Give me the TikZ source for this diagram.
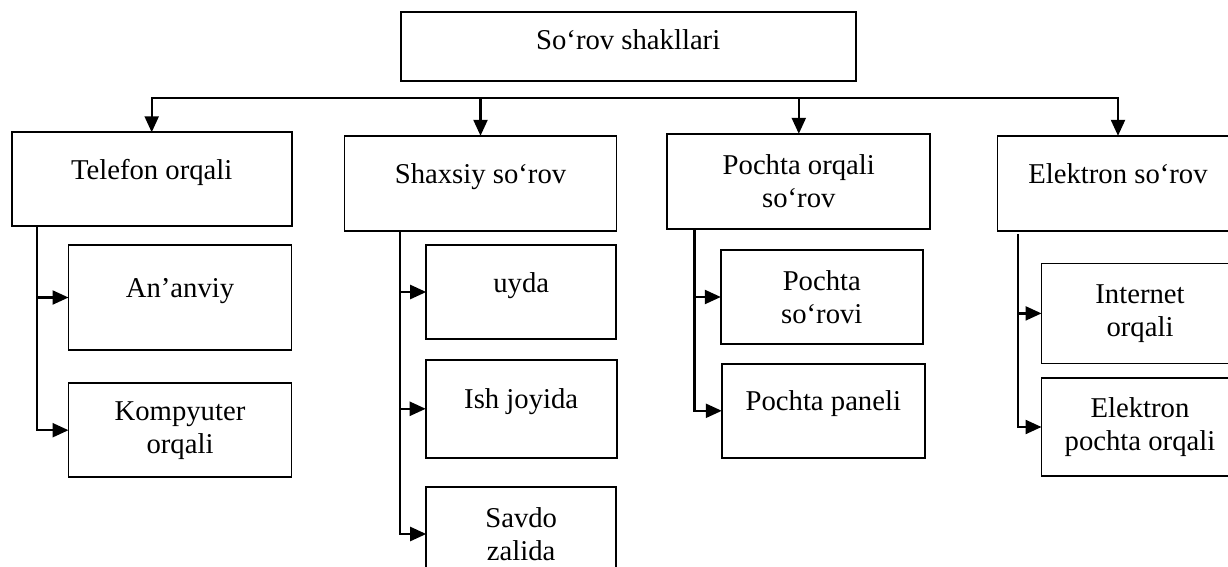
\documentclass[tikz,border=0pt]{standalone}
\usepackage{fontspec}
\setmainfont{Liberation Serif}
\usetikzlibrary{arrows.meta}
\begin{document}
\begin{tikzpicture}[x=1pt,y=-1pt,
  box/.style={draw, line width=1.8pt, inner sep=2pt, outer sep=0pt,
    font=\fontsize{28.7pt}{33pt}\selectfont},
  oneline/.style={text height=8pt, text depth=8pt},
  two/.style={align=center},
  bus/.style={line width=2.3pt, line cap=rect},
  conn/.style={line width=2.3pt, -{Triangle[length=16pt,width=14pt]}},
]
\useasboundingbox (0,0) rectangle (1228,567);
\clip (0,0) rectangle (1228,567);

% root
\node[box, minimum width=455pt, minimum height=69pt, text height=14pt, text depth=7pt]
  (root) at (628.2,46.2) {So‘rov shakllari};

% first level
\node[box, oneline, minimum width=280pt, minimum height=94pt] (tel) at (151.7,179.3) {Telefon orqali};
\node[box, oneline, minimum width=272pt, minimum height=95pt] (shx) at (480.5,183.3) {Shaxsiy so‘rov};
\node[box, two, minimum width=263pt, minimum height=95pt] (poc) at (798.8,181.3) {Pochta orqali\\so‘rov};
\node[box, oneline, minimum width=241pt, minimum height=95pt] (ele) at (1118,183.3) {Elektron so‘rov};

% second level
\node[box, oneline, minimum width=223pt, minimum height=105pt] (ana) at (180,297.5) {An’anviy};
\node[box, two, minimum width=223pt, minimum height=94pt] (kom) at (180,430.2) {Kompyuter\\orqali};

\node[box, oneline, minimum width=190pt, minimum height=94pt] (uyd) at (521.2,292) {uyda};
\node[box, oneline, minimum width=191pt, minimum height=98pt] (ish) at (521.2,408.8) {Ish joyida};
\node[box, two, minimum width=190pt, minimum height=94pt] (sav) at (521.2,534) {Savdo\\zalida};

\node[box, two, minimum width=202pt, minimum height=94pt] (pso) at (821.8,297) {Pochta\\so‘rovi};
\node[box, oneline, minimum width=203pt, minimum height=94pt] (ppa) at (823.3,410.8) {Pochta paneli};

\node[box, two, minimum width=197pt, minimum height=100pt] (int) at (1140,313.4) {Internet\\orqali};
\node[box, two, minimum width=197pt, minimum height=98pt] (epo) at (1140,427) {Elektron\\pochta orqali};

% distribution bus below the root
\coordinate (bl) at (151.7,97.7);
\draw[bus] (tel.north |- bl) -- (ele.north |- bl);
\draw[conn] (tel.north |- bl) -- (tel.north);
\draw[conn] (shx.north |- bl) -- (shx.north);
\draw[conn] (poc.north |- bl) -- (poc.north);
\draw[conn] (ele.north |- bl) -- (ele.north);

% trunks to the sub-items
\coordinate (telj) at (37.3,226.3);
\coordinate (shxj) at (400,230.8);
\coordinate (pocj) at (694.4,228.8);
\coordinate (elej) at (1017.8,234);

\draw[conn] (telj) |- (ana.west);
\draw[conn] (telj) |- (kom.west);

\draw[conn] (shxj) |- (uyd.west);
\draw[conn] (shxj) |- (ish.west);
\draw[conn] (shxj) |- (sav.west);

\draw[conn] (pocj) |- (pso.west);
\draw[conn] (pocj) |- (ppa.west);

\draw[conn] (elej) |- (int.west);
\draw[conn] (elej) |- (epo.west);
\end{tikzpicture}
\end{document}
